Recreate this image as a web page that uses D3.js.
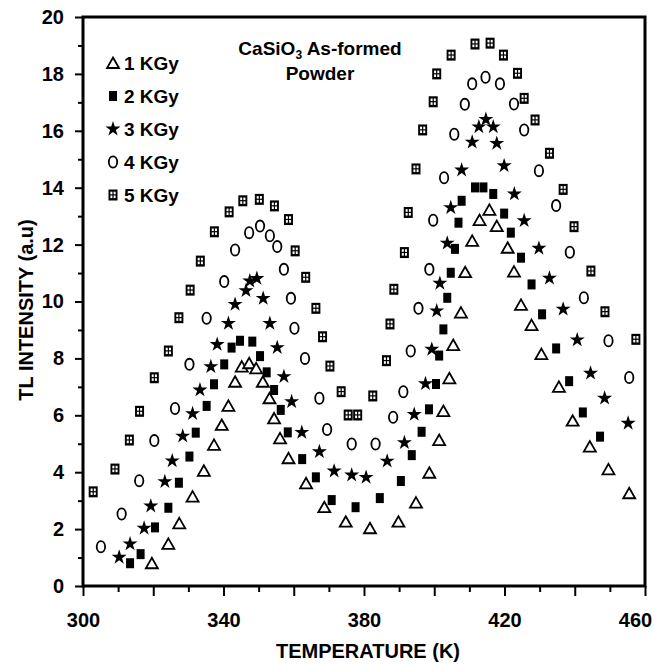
<!DOCTYPE html>
<html>
<head>
<meta charset="utf-8" />
<script src="https://d3js.org/d3.v7.min.js"></script>
<style>
  body { margin: 0; background: #fff; }
  text { font-family: "Liberation Sans", Arial, sans-serif; font-weight: bold; fill: #000; }
</style>
</head>
<body>
<div id="chart"></div>
<script>
// [temperature K, TL intensity]
var dose1 = [[319.6,0.80],[324.3,1.48],[327.4,2.20],[331.2,3.14],[334.4,4.05],[337.3,4.96],[339.5,5.66],[341.4,6.33],[343.3,7.18],[345.2,7.71],[347.3,7.83],[349.3,7.65],[351.2,7.18],[353.1,6.60],[354.4,5.89],[356.1,5.19],[358.5,4.49],[363.5,3.61],[368.7,2.77],[374.8,2.26],[381.7,2.03],[389.8,2.26],[394.8,2.93],[398.6,3.98],[401.4,5.13],[402.6,6.15],[404.3,7.30],[405.4,8.47],[407.6,9.61],[408.8,11.03],[410.8,12.13],[412.9,12.86],[415.7,13.22],[417.8,12.65],[420.9,11.89],[422.7,11.05],[424.7,9.88],[427.7,9.17],[430.5,8.15],[435.5,7.00],[439.4,5.81],[444.3,4.90],[449.6,4.10],[455.5,3.26]];
var dose2 = [[313.4,0.80],[316.4,1.12],[320.5,2.06],[324.3,2.75],[327.3,3.63],[330.3,4.55],[332.1,5.39],[335.2,6.33],[337.3,7.09],[340.2,7.79],[342.3,8.38],[344.7,8.62],[348.2,8.59],[350.4,8.08],[352.3,7.51],[354.4,6.89],[356.3,6.19],[358.3,5.40],[362.4,4.46],[366.3,3.82],[370.8,3.02],[377.6,2.77],[384.5,3.09],[390.5,3.69],[393.6,4.60],[396.4,5.42],[398.5,6.21],[400.5,7.10],[401.4,8.10],[402.6,9.02],[403.7,10.13],[404.7,11.01],[405.9,11.85],[406.9,12.77],[407.8,13.54],[411.6,14.01],[414.0,14.01],[416.8,13.78],[419.9,13.09],[421.8,12.42],[424.7,11.54],[427.7,10.60],[430.7,9.55],[434.7,8.35],[438.4,7.20],[442.3,6.10],[447.2,5.25]];
var dose3 = [[310.3,1.01],[313.4,1.48],[317.4,2.03],[319.3,2.81],[323.3,3.67],[325.4,4.40],[328.4,5.27],[331.2,6.06],[333.3,6.89],[336.4,7.71],[338.2,8.49],[341.4,9.23],[343.3,9.90],[346.4,10.38],[347.5,10.72],[349.5,10.81],[351.3,10.11],[353.2,9.23],[355.3,8.38],[357.2,7.36],[359.4,6.48],[362.3,5.40],[367.3,4.72],[371.5,4.04],[376.5,3.90],[380.6,3.82],[386.6,4.39],[391.5,5.04],[394.3,6.03],[397.5,7.11],[399.3,8.32],[400.7,9.67],[401.6,10.64],[403.7,12.05],[404.7,13.30],[407.8,14.62],[410.8,15.60],[412.7,16.14],[414.7,16.40],[416.8,16.14],[417.8,15.56],[419.9,14.77],[422.8,13.78],[425.6,12.84],[429.8,11.87],[432.8,10.82],[436.7,9.73],[440.7,8.65],[444.5,7.48],[448.5,6.60],[455.2,5.72]];
var dose4 = [[305.1,1.38],[311.0,2.53],[316.0,3.70],[320.3,5.11],[326.2,6.24],[330.3,7.79],[335.2,9.41],[340.2,10.70],[343.3,11.81],[347.3,12.42],[350.4,12.65],[353.2,12.31],[355.3,11.93],[357.2,11.13],[359.2,10.11],[360.2,9.06],[363.2,8.00],[367.3,6.60],[369.5,5.50],[376.5,4.99],[383.3,4.99],[388.3,5.93],[391.2,6.83],[393.3,8.26],[395.5,9.76],[398.6,11.13],[399.7,12.86],[402.8,14.35],[405.7,15.88],[408.7,16.93],[410.8,17.65],[414.6,17.88],[418.7,17.65],[422.7,16.94],[425.6,16.03],[429.8,14.60],[434.7,13.37],[438.6,11.73],[442.6,10.13],[449.6,8.62],[455.5,7.33]];
var dose5 = [[302.9,3.31],[309.1,4.11],[313.2,5.13],[316.1,6.14],[320.3,7.32],[324.3,8.26],[327.3,9.43],[330.5,10.40],[333.4,11.42],[337.4,12.45],[341.6,13.15],[345.5,13.54],[350.2,13.59],[354.5,13.36],[358.5,12.88],[360.4,11.78],[363.4,10.85],[366.3,9.76],[368.2,8.76],[370.3,7.73],[373.5,6.83],[375.5,6.01],[378.2,6.01],[382.5,6.68],[386.4,7.92],[387.4,9.21],[388.5,10.43],[391.5,11.72],[392.6,13.13],[394.8,14.66],[396.7,16.03],[399.7,17.02],[400.7,18.00],[404.8,18.66],[411.6,19.05],[415.9,19.08],[419.7,18.66],[423.7,18.02],[425.6,17.14],[428.7,16.38],[432.8,15.21],[436.7,13.94],[439.8,12.63],[444.6,11.07],[448.6,9.64],[457.4,8.67]];

var legendLabels = ["1 KGy", "2 KGy", "3 KGy", "4 KGy", "5 KGy"];
var markerKinds = ["triangle", "square", "star", "circle", "grid"];
var xTicks = d3.range(300, 461, 10);
var yTicks = d3.range(0, 21, 1);

var W = 654, H = 664;
var mLeft = 83, mRight = 645, mTop = 17, mBottom = 586;

var x = d3.scaleLinear().domain([300, 460]).range([mLeft, mRight]);
var y = d3.scaleLinear().domain([0, 20]).range([mBottom, mTop]);

var svg = d3.select("#chart").append("svg")
  .attr("width", W).attr("height", H);

// draws one marker of the given kind into g, centred at 0,0
function marker(g, kind) {
  if (kind === "triangle") {
    g.append("path").attr("d", "M0,-5.5L6,5L-6,5Z")
      .attr("fill", "#fff").attr("stroke", "#000").attr("stroke-width", 1.8);
  } else if (kind === "square") {
    g.append("rect").attr("x", -4).attr("y", -5).attr("width", 8).attr("height", 10).attr("fill", "#000");
  } else if (kind === "star") {
    g.append("path").attr("d", d3.symbol(d3.symbolStar, 70)()).attr("fill", "#000");
  } else if (kind === "circle") {
    g.append("ellipse").attr("rx", 4.2).attr("ry", 5.6)
      .attr("fill", "#fff").attr("stroke", "#000").attr("stroke-width", 1.8);
  } else {
    g.append("rect").attr("x", -4.5).attr("y", -5.5).attr("width", 9).attr("height", 11).attr("fill", "#000");
    [[-2.6, -3.3], [0.6, -3.3], [-2.6, 0.5], [0.6, 0.5]].forEach(function (p) {
      g.append("rect").attr("x", p[0]).attr("y", p[1]).attr("width", 2).attr("height", 2.6).attr("fill", "#fff");
    });
  }
}

// axes
var xAxis = svg.append("g")
  .attr("transform", "translate(0," + mBottom + ")")
  .call(d3.axisBottom(x).tickValues(xTicks).tickSize(6)
    .tickFormat(function (d) { return (d - 300) % 40 === 0 ? d : ""; }));
xAxis.select(".domain").remove();
xAxis.selectAll(".tick line").attr("stroke-width", 2)
  .attr("y2", function (d) { return (d - 300) % 20 === 0 ? 10 : 6; });
xAxis.selectAll(".tick text").attr("y", 27).style("font-size", "20px")
  .attr("dx", function (d) { return d === 460 ? -10 : 0; })
  .style("font-family", "Liberation Sans, Arial, sans-serif").style("font-weight", "bold");

var yAxis = svg.append("g")
  .attr("transform", "translate(" + mLeft + ",0)")
  .call(d3.axisLeft(y).tickValues(yTicks).tickSize(5)
    .tickFormat(function (d) { return d % 2 === 0 ? d : ""; }));
yAxis.select(".domain").remove();
yAxis.selectAll(".tick line").attr("stroke-width", 2)
  .attr("x2", function (d) { return d % 2 === 0 ? -8 : -5; });
yAxis.selectAll(".tick text").attr("x", -19).style("font-size", "20px")
  .style("font-family", "Liberation Sans, Arial, sans-serif").style("font-weight", "bold");

svg.append("rect")
  .attr("x", mLeft).attr("y", mTop)
  .attr("width", mRight - mLeft).attr("height", mBottom - mTop)
  .attr("fill", "none").attr("stroke", "#000").attr("stroke-width", 3);

svg.append("text")
  .attr("x", 368).attr("y", 658)
  .attr("text-anchor", "middle").style("font-size", "20px")
  .text("TEMPERATURE (K)");

svg.append("text")
  .attr("transform", "translate(33,310) rotate(-90)")
  .attr("text-anchor", "middle").style("font-size", "20px")
  .text("TL INTENSITY (a.u)");

// title
var t1 = svg.append("text").attr("x", 320).attr("y", 55)
  .attr("text-anchor", "middle").style("font-size", "19px");
t1.append("tspan").text("CaSiO");
t1.append("tspan").attr("dy", 4).style("font-size", "12px").text("3");
t1.append("tspan").attr("dy", -4).text(" As-formed");
svg.append("text").attr("x", 320).attr("y", 80)
  .attr("text-anchor", "middle").style("font-size", "19px")
  .text("Powder");

// points
var series = [dose1, dose2, dose3, dose4, dose5];
series.forEach(function (data, i) {
  svg.append("g").attr("class", "series" + i)
    .selectAll("g")
    .data(data)
    .enter().append("g")
    .attr("transform", function (d) { return "translate(" + x(d[0]) + "," + y(d[1]) + ")"; })
    .each(function () { marker(d3.select(this), markerKinds[i]); });
});

// legend
var legend = svg.append("g").selectAll("g")
  .data(legendLabels)
  .enter().append("g")
  .attr("transform", function (d, i) { return "translate(113," + (63 + i * 33) + ")"; });
legend.each(function (d, i) { marker(d3.select(this), markerKinds[i]); });
legend.append("text")
  .attr("x", 11).attr("y", 7)
  .style("font-size", "19px")
  .text(function (d) { return d; });
</script>
</body>
</html>
